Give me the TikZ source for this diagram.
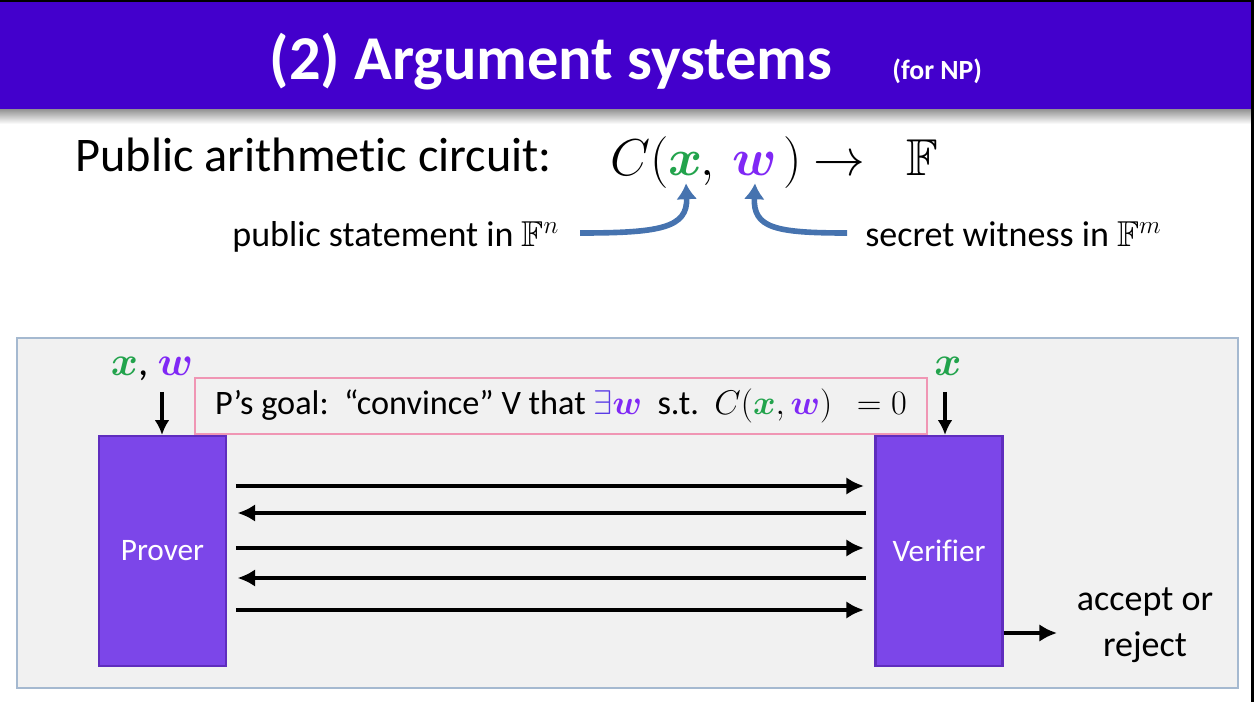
\RequirePackage{fix-cm}
\documentclass[tikz,border=0pt]{standalone}
\usepackage{amsmath}
\usepackage{amssymb}
\usepackage{bm}
\usepackage{fontspec}
\setmainfont{Carlito}[Ligatures=CommonOff]
\usepackage{xcolor}
\usetikzlibrary{arrows.meta}
\tikzset{>=latex}

\definecolor{barblue}{RGB}{67,0,204}
\definecolor{xgreen}{RGB}{34,163,76}
\definecolor{wpurple}{RGB}{128,40,245}
\definecolor{existblue}{RGB}{90,60,230}
\definecolor{panelfill}{RGB}{241,241,241}
\definecolor{paneledge}{RGB}{165,185,208}
\definecolor{partyfill}{RGB}{124,70,233}
\definecolor{partyedge}{RGB}{95,45,190}
\definecolor{goaledge}{RGB}{240,150,180}
\definecolor{pointerblue}{RGB}{70,115,175}

\newcommand{\fstitle}{\fontsize{35.5}{42}\selectfont\bfseries}
\newcommand{\fssub}{\fontsize{15.8}{19}\selectfont\bfseries}
\newcommand{\fshead}{\fontsize{27.5}{33}\selectfont}
\newcommand{\fsmath}{\fontsize{29.5}{35}\selectfont}
\newcommand{\fsnote}{\fontsize{20.5}{24.5}\selectfont}
\newcommand{\fsgoal}{\fontsize{19.5}{23}\selectfont}
\newcommand{\fsparty}{\fontsize{17.8}{21}\selectfont}
\newcommand{\fsinput}{\fontsize{23.5}{27}\selectfont}

\tikzstyle{titletext} = [text=white, inner sep=0, font=\fstitle]
\tikzstyle{heading} = [inner sep=0, font=\fshead]
\tikzstyle{formula} = [inner sep=4pt, font=\fsmath]
\tikzstyle{note} = [inner sep=0, font=\fsnote]
\tikzstyle{pointer} = [line width=3.2pt, draw=pointerblue, -{Latex[length=9pt,width=12pt]}]
\tikzstyle{party} = [rectangle, draw=partyedge, fill=partyfill, line width=1.2pt, minimum width=2.54cm, minimum height=4.6cm, text=white, font=\fsparty]
\tikzstyle{msg} = [line width=2.8pt, -{Latex[length=10pt,width=10pt]}, shorten <=5pt, shorten >=6pt]
\tikzstyle{feed} = [line width=2.2pt, -{Latex[length=8.5pt,width=8.5pt]}]

\begin{document}
\begin{tikzpicture}[x=0.02cm, y=-0.02cm]
\useasboundingbox (0,0) rectangle (1254,702);
% title bar
\fill [barblue] (0,0) rectangle (1254,110);
\shade [top color=black!40, bottom color=white] (0,110) rectangle (1254,124);
\fill [black] (0,0) rectangle (1254,2);
\fill [black] (1251,0) rectangle (1254,702);
\node [titletext, anchor=base] (title) at (551,80) {(2) Argument systems};
\node [titletext, font=\fssub, anchor=base west] (forNP) at (892,80) {(for NP)};

% the circuit
\node [heading, anchor=base west] (circuit) at (75,172) {Public arithmetic circuit:};
\node [formula, anchor=base west] (fC) at (603,176) {$C($};
\node [formula, anchor=base, text=xgreen] (fx) at (686,176) {$\bm{x}$};
\node [formula, anchor=base] (fcomma) at (708,176) {$,$};
\node [formula, anchor=base, text=wpurple] (fw) at (755,176) {$\bm{w}$};
\node [formula, anchor=base] (fclose) at (793,176) {$)$};
\node [formula, anchor=base] (fto) at (839,176) {$\to$};
\node [formula, anchor=base] (fF) at (922,176) {$\mathbb{F}$};

\node [note, anchor=base west] (stmt) at (232,247) {public statement in $\mathbb{F}^n$};
\node [note, anchor=base west] (secret) at (865,247) {secret witness in $\mathbb{F}^m$};
\coordinate (stmt end) at (580,233);
\coordinate (secret end) at (847,233);
\draw [pointer] (stmt end) .. controls (660,233) and (688,228) .. (fx.south);
\draw [pointer] (secret end) .. controls (775,233) and (753,228) .. (fw.south);

% the protocol
\draw [fill=panelfill, draw=paneledge, line width=0.8pt] (17,338) rectangle (1238,688);
\node [party] (prover) at (162.5,551) {Prover};
\node [party] (verifier) at (939,551) {Verifier};
\node [rectangle, draw=goaledge, line width=0.8pt, minimum width=14.64cm, minimum height=1.12cm, font=\fsgoal] (goal) at (561,406)
  {P’s goal:\ \ “convince” V that $\textcolor{existblue}{\exists}\textcolor{wpurple}{\bm{w}}$\ \ s.t.\ \ $C(\textcolor{xgreen}{\bm{x}},\textcolor{wpurple}{\bm{w}})\;\,= 0$};

\node [inner sep=0, font=\fsinput, anchor=base] (inP) at (152,376) {$\textcolor{xgreen}{\bm{x}}$,\ $\textcolor{wpurple}{\bm{w}}$};
\node [inner sep=0, font=\fsinput, anchor=base] (inV) at (948,376) {$\textcolor{xgreen}{\bm{x}}$};
\coordinate (feedP) at (162,392);
\coordinate (feedV) at (945,392);
\draw [feed] (feedP) -- (feedP |- prover.north);
\draw [feed] (feedV) -- (feedV |- verifier.north);

\foreach \yy in {486,548,610}
  \draw [msg] (prover.east |- 0,\yy) -- (verifier.west |- 0,\yy);
\foreach \yy in {513,578}
  \draw [msg] (verifier.west |- 0,\yy) -- (prover.east |- 0,\yy);

\node [inner sep=0, font=\fsnote, align=center] (decision) at (1145,625) {accept or\\[2pt]reject};
\draw [msg, shorten <=0pt, shorten >=0pt] (verifier.east |- 0,633) -- (1057,633);
\end{tikzpicture}
\end{document}
